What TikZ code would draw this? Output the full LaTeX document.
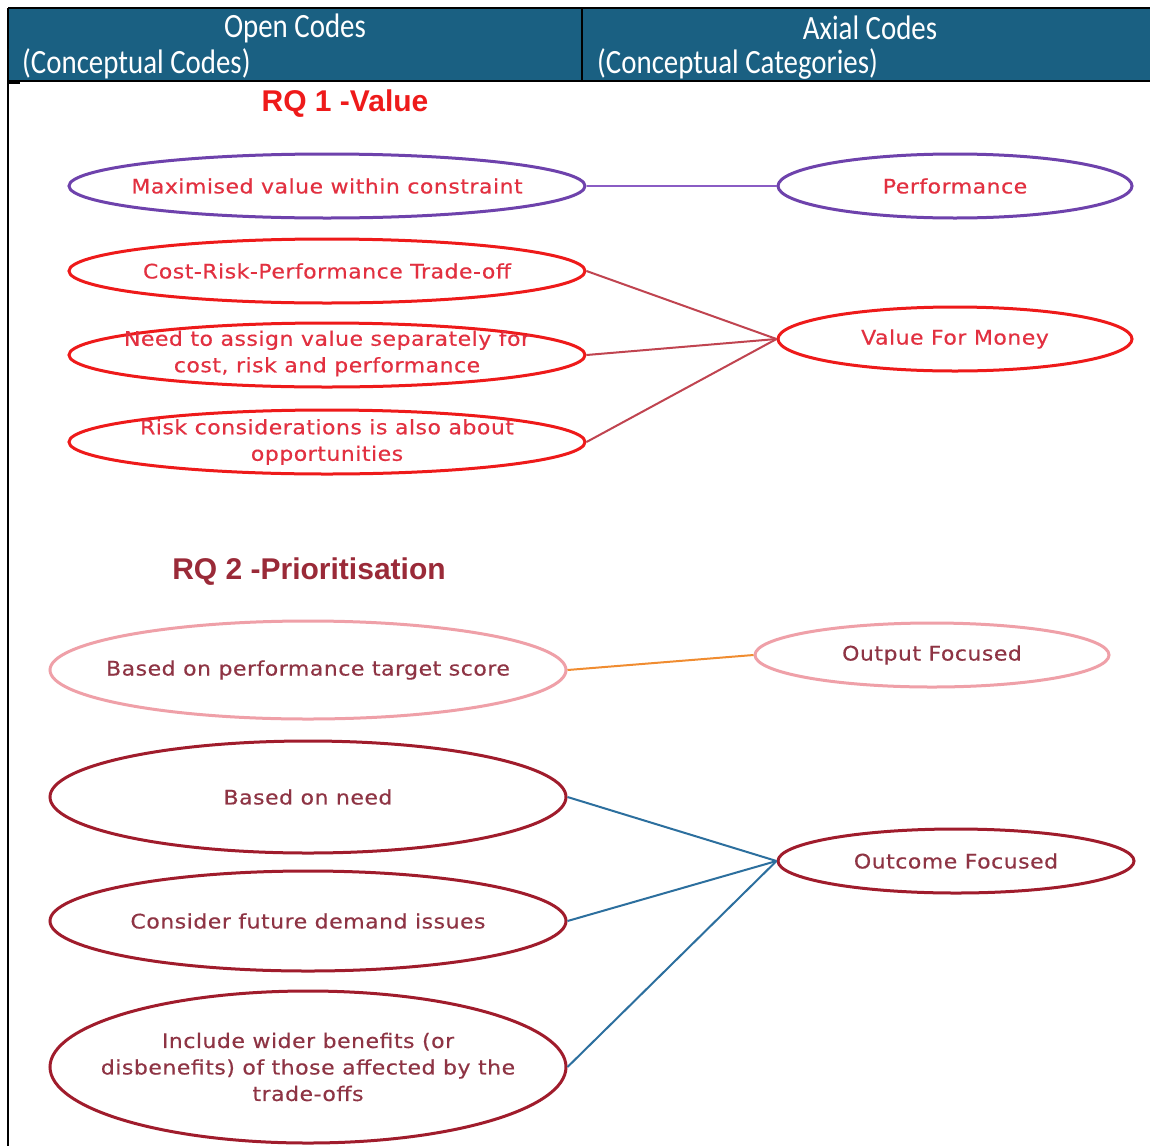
\documentclass[tikz,border=0pt]{standalone}
\usepackage{fontspec}
\usetikzlibrary{shapes.geometric}
\newfontfamily\hdrfont[FakeStretch=0.85]{Carlito}
\newfontfamily\lblfont[FakeStretch=1.1, LetterSpace=2.5, FakeBold=0.4]{DejaVu Sans}
\newfontfamily\rqfont{Liberation Sans}
\definecolor{hdrblue}{HTML}{1A6082}
\definecolor{purp}{HTML}{6E42AC}
\definecolor{purpline}{HTML}{8A5CC4}
\definecolor{redov}{HTML}{EE1A1A}
\definecolor{redtxt}{HTML}{E23040}
\definecolor{redline}{HTML}{C04450}
\definecolor{pinkov}{HTML}{EFA0A8}
\definecolor{orline}{HTML}{F08C30}
\definecolor{darkred}{HTML}{A01C2C}
\definecolor{dtxt}{HTML}{8E3444}
\definecolor{rqtwo}{HTML}{9A2A38}
\definecolor{blueline}{HTML}{2C6F9E}
\begin{document}
\begin{tikzpicture}[x=1pt,y=-1pt,
  oval/.style={ellipse, draw, line width=3pt, inner sep=0pt, fill=white},
  lbl/.style={font=\lblfont\fontsize{20}{26.5}\selectfont, align=center, inner sep=0pt},
  hdr/.style={font=\hdrfont\fontsize{34}{38}\selectfont, text=white, inner sep=0pt},
  rqt/.style={font=\rqfont\bfseries\fontsize{30}{34}\selectfont, inner sep=0pt},
  conn/.style={line width=2pt}]
\useasboundingbox (0,0) rectangle (1150,1146);
\fill[white] (0,0) rectangle (1150,1146);
% header
\fill[hdrblue] (9,9) rectangle (1150,81);
\draw[black, line width=2pt] (8,8) -- (1150,8);
\draw[black, line width=2pt] (8,8) -- (8,1146);
\draw[black, line width=2pt] (582,8) -- (582,81);
\draw[black, line width=1.5pt] (8,81) -- (1150,81);
\draw[black, line width=3pt] (8,82) -- (20,82);
\node[hdr] (h1) at (295,28) {Open Codes};
\node[hdr, anchor=west] (h2) at (22,64) {(Conceptual Codes)};
\node[hdr] (h3) at (870,28) {Axial Codes};
\node[hdr, anchor=west] (h4) at (597,64) {(Conceptual Categories)};
% RQ1
\node[rqt, text=redov] (rq1) at (345,104) {RQ 1 -Value};
\node[oval, draw=purp, minimum width=516pt, minimum height=64pt] (max) at (327,186) {};
\node[lbl, text=redtxt] at (max) {Maximised value within constraint};
\node[oval, draw=purp, minimum width=354pt, minimum height=64pt] (perf) at (955,186) {};
\node[lbl, text=redtxt] at (perf) {Performance};
\node[oval, draw=redov, minimum width=516pt, minimum height=64pt] (cost) at (327,271) {};
\node[lbl, text=redtxt] at (cost) {Cost-Risk-Performance Trade-off};
\node[oval, draw=redov, minimum width=516pt, minimum height=64pt] (need) at (327,355) {};
\node[lbl, text=redtxt] at ([yshift=1.5pt]need.center) {Need to assign value separately for\\cost, risk and performance};
\node[oval, draw=redov, minimum width=516pt, minimum height=64pt] (risk) at (327,442) {};
\node[lbl, text=redtxt] at (risk) {Risk considerations is also about\\opportunities};
\node[oval, draw=redov, minimum width=354pt, minimum height=64pt] (vfm) at (955,339) {};
\node[lbl, text=redtxt] at (vfm) {Value For Money};
\draw[conn, purpline] (max.east) -- (perf.west);
\draw[conn, redline] (cost.east) -- (vfm.west);
\draw[conn, redline] (need.east) -- (vfm.west);
\draw[conn, redline] (risk.east) -- (vfm.west);
% RQ2
\node[rqt, text=rqtwo] (rq2) at (309,572) {RQ 2 -Prioritisation};
\node[oval, draw=pinkov, minimum width=516pt, minimum height=98pt] (bperf) at (308,670) {};
\node[lbl, text=dtxt] at (bperf) {Based on performance target score};
\node[oval, draw=pinkov, minimum width=354pt, minimum height=64pt] (outp) at (932,655) {};
\node[lbl, text=dtxt] at (outp) {Output Focused};
\node[oval, draw=darkred, minimum width=516pt, minimum height=112pt] (bneed) at (308,797) {};
\node[lbl, text=dtxt] at (bneed) {Based on need};
\node[oval, draw=darkred, minimum width=516pt, minimum height=100pt] (fut) at (308,921) {};
\node[lbl, text=dtxt] at (fut) {Consider future demand issues};
\node[oval, draw=darkred, minimum width=516pt, minimum height=152pt] (wide) at (308,1067) {};
\node[lbl, text=dtxt] at (wide) {Include wider benefits (or\\disbenefits) of those affected by the\\trade-offs};
\node[oval, draw=darkred, minimum width=356pt, minimum height=64pt] (outc) at (956,861) {};
\node[lbl, text=dtxt] at (outc) {Outcome Focused};
\draw[conn, orline] (bperf.east) -- (outp.west);
\draw[conn, blueline] (bneed.east) -- (outc.west);
\draw[conn, blueline] (fut.east) -- (outc.west);
\draw[conn, blueline] (wide.east) -- (outc.west);
\end{tikzpicture}
\end{document}
